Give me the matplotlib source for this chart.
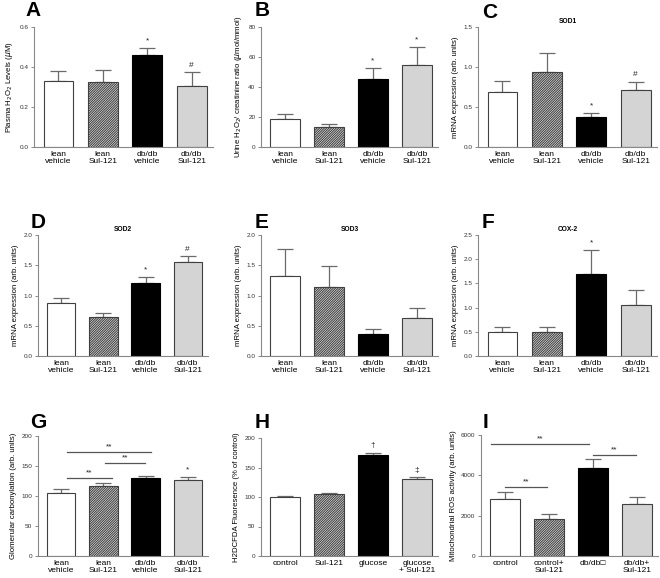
import matplotlib
matplotlib.use("Agg")
import matplotlib.pyplot as plt

plt.rcParams['font.family'] = ['Liberation Sans', 'DejaVu Sans']
plt.rcParams['hatch.linewidth'] = 0.8

# ---- data ----
groups_mouse = ["lean\nvehicle", "lean\nSul-121", "db/db\nvehicle", "db/db\nSul-121"]
groups_cell = ["control", "Sul-121", "glucose", "glucose\n+ Sul-121"]
groups_mito = ["control", "control+\nSul-121", "db/db\u25a1", "db/db+\nSul-121"]

a_mean = [0.331, 0.326, 0.461, 0.306]
a_err = [0.048, 0.057, 0.034, 0.067]
a_marks = ["", "", "*", "#"]

b_mean = [18.7, 13.1, 45.5, 54.4]
b_err = [3.6, 2.1, 7.1, 12.0]
b_marks = ["", "", "*", "*"]

c_mean = [0.689, 0.940, 0.372, 0.710]
c_err = [0.134, 0.234, 0.058, 0.105]
c_marks = ["", "", "*", "#"]

d_mean = [0.875, 0.648, 1.213, 1.551]
d_err = [0.089, 0.056, 0.100, 0.094]
d_marks = ["", "", "*", "#"]

e_mean = [1.319, 1.147, 0.366, 0.620]
e_err = [0.454, 0.338, 0.077, 0.167]
e_marks = ["", "", "", ""]

f_mean = [0.506, 0.506, 1.697, 1.046]
f_err = [0.103, 0.097, 0.491, 0.318]
f_marks = ["", "", "*", ""]

g_mean = [105.8, 117.5, 129.8, 127.0]
g_err = [5.1, 3.4, 3.3, 5.0]
g_marks = ["", "", "", "*"]
g_brackets = [(0.14, 1.2, 130.4), (1.03, 1.98, 155.4), (0.14, 2.12, 173.8)]

h_mean = [99.4, 104.5, 170.5, 130.1]
h_err = [1.7, 2.3, 4.5, 3.4]
h_marks = ["", "", "\u2020", "\u2021"]

i_mean = [2825, 1828, 4355, 2576]
i_err = [333, 233, 465, 333]
i_marks = ["", "", "", ""]
i_brackets = [(0.0, 0.95, 3407), (-0.32, 1.9, 5551), (2.0, 2.97, 5003)]

fills = ["white", "white", "black", "#d4d4d4"]
hatches = [None, "//////////////", None, None]

W, H = 660, 578
fig = plt.figure(figsize=(W / 100, H / 100), dpi=100)


def make_ax(l, t, r, b):
    return fig.add_axes([l / W, 1 - b / H, (r - l) / W, (b - t) / H])


def panel(rect, letter, letter_xy, mean, err, marks, labels, ymax, ystep,
          ylabel, title=None, brackets=None, fmt="{:.1f}"):
    ax = make_ax(*rect)
    x = range(len(mean))
    for i in x:
        ec = "black" if fills[i] == "black" else "#404040"
        ax.bar(i, mean[i], width=0.67, color=fills[i], edgecolor=ec,
               linewidth=0.8, hatch=hatches[i], zorder=2)
        ax.errorbar(i, mean[i], yerr=[[0], [err[i]]], fmt="none",
                    ecolor="#6a6a6a", elinewidth=0.9, capsize=5.5,
                    capthick=0.9, zorder=1)
        if marks[i]:
            ax.text(i, mean[i] + err[i] + ymax * 0.03, marks[i],
                    ha="center", va="bottom", fontsize=6, color="#222")
    if brackets:
        for x0, x1, y in brackets:
            ax.plot([x0, x1], [y, y], color="#555", lw=0.9, clip_on=False)
            ax.text((x0 + x1) / 2, y + ymax * 0.015, "**", ha="center",
                    va="bottom", fontsize=6, color="#222")
    ax.set_xlim(-0.55, 3.48)
    ax.set_ylim(0, ymax)
    ticks = [k * ystep for k in range(int(round(ymax / ystep)) + 1)]
    ax.set_yticks(ticks)
    ax.set_yticklabels([fmt.format(t) for t in ticks])
    ax.set_xticks(list(x))
    ax.set_xticklabels(labels, fontsize=6, linespacing=1.05)
    ax.tick_params(axis="x", length=0, pad=3)
    ax.tick_params(axis="y", labelsize=4.6, length=2, width=0.6,
                   color="#777", pad=2, labelcolor="#333")
    for s in ["top", "right"]:
        ax.spines[s].set_visible(False)
    for s in ["left", "bottom"]:
        ax.spines[s].set_color("#888")
        ax.spines[s].set_linewidth(0.8)
    ax.set_ylabel(ylabel, fontsize=5.6, labelpad=3)
    if title:
        ax.set_title(title, fontsize=4.8, fontweight="bold", pad=3)
    fig.text(letter_xy[0] / W, 1 - letter_xy[1] / H, letter, fontsize=15,
             fontweight="bold", ha="center", va="center")
    return ax


panel((34, 27, 213, 147), "A", (33, 11), a_mean, a_err, a_marks,
      groups_mouse, 0.6, 0.2, r"Plasma H$_2$O$_2$ Levels ($\mu$M)")
panel((261, 27, 438, 147), "B", (262, 11), b_mean, b_err, b_marks,
      groups_mouse, 80, 20,
      r"Urine H$_2$O$_2$/ creatinine ratio ($\mu$mol/mmol)", fmt="{:.0f}")
panel((478, 27, 657, 147), "C", (490, 13), c_mean, c_err, c_marks,
      groups_mouse, 1.5, 0.5, "mRNA expression (arb. units)", title="SOD1")

panel((38, 235, 208, 356), "D", (38, 222), d_mean, d_err, d_marks,
      groups_mouse, 2.0, 0.5, "mRNA expression (arb. units)", title="SOD2")
panel((261, 235, 438, 356), "E", (262, 222), e_mean, e_err, e_marks,
      groups_mouse, 2.0, 0.5, "mRNA expression (arb. units)", title="SOD3")
panel((478, 235, 657, 356), "F", (488, 222), f_mean, f_err, f_marks,
      groups_mouse, 2.5, 0.5, "mRNA expression (arb. units)", title="COX-2")

panel((38, 436, 208, 556), "G", (38, 422), g_mean, g_err, g_marks,
      groups_mouse, 200, 50, "Glomerular carbonylation (arb. units)",
      brackets=g_brackets, fmt="{:.0f}")
panel((261, 438, 438, 556), "H", (262, 422), h_mean, h_err, h_marks,
      groups_cell, 200, 50, "H2DCFDA Fluoresence (% of control)",
      fmt="{:.0f}")
panel((481, 435, 658, 556), "I", (485, 422), i_mean, i_err, i_marks,
      groups_mito, 6000, 2000, "Mitochondrial ROS activity (arb. units)",
      brackets=i_brackets, fmt="{:.0f}")

fig.savefig("out.png", dpi=100)
